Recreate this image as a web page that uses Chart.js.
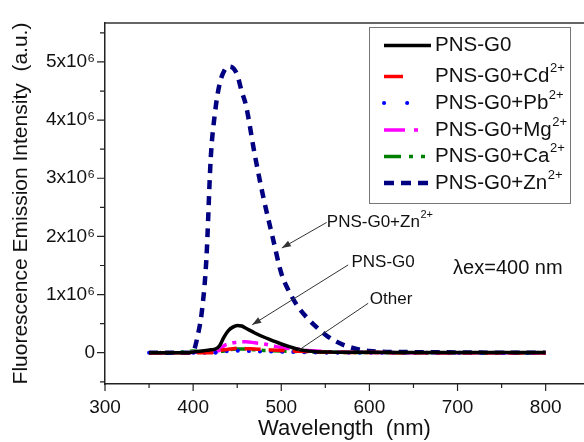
<!DOCTYPE html>
<html><head><meta charset="utf-8">
<script src="https://cdn.jsdelivr.net/npm/chart.js@4.4.1/dist/chart.umd.min.js"></script>
<style>html,body{margin:0;padding:0;background:#fff}#wrap{width:584px;height:442px;position:relative}</style>
</head><body><div id="wrap"><canvas id="c" width="584" height="442"></canvas></div>
<script>
// ---- data (intensities in units of 10^6 a.u.) ----
const wavelengths = [350, 380, 395, 400, 405, 410, 415, 420, 425, 430, 435, 440, 445, 450, 455, 460, 470, 480, 490, 500, 510, 520, 530, 540, 550, 560, 575, 600, 650, 700, 750, 800];
const pnsG0   = [0, 0, 0, 0.01, 0.02, 0.03, 0.04, 0.05, 0.06, 0.12, 0.27, 0.38, 0.44, 0.47, 0.46, 0.42, 0.34, 0.27, 0.21, 0.15, 0.10, 0.055, 0.03, 0.018, 0.012, 0.01, 0.008, 0.006, 0.005, 0.005, 0.005, 0.005];
const pnsCd   = [0, 0, 0, 0, 0, 0, 0, 0, 0.01, 0.03, 0.05, 0.06, 0.07, 0.075, 0.075, 0.07, 0.065, 0.055, 0.045, 0.04, 0.03, 0.025, 0.02, 0.015, 0.01, 0.008, 0.005, 0.003, 0, 0, 0, 0];
const pnsPb   = [0, 0, 0, 0, 0, 0, 0, 0, 0, 0.01, 0.02, 0.03, 0.035, 0.035, 0.035, 0.03, 0.025, 0.02, 0.02, 0.015, 0.012, 0.01, 0.008, 0.005, 0, 0, 0, 0, 0, 0, 0, 0];
const pnsMg   = [0, 0, 0, 0.01, 0.01, 0.01, 0.01, 0.01, 0.02, 0.04, 0.12, 0.15, 0.17, 0.18, 0.19, 0.19, 0.17, 0.15, 0.12, 0.09, 0.07, 0.06, 0.04, 0.03, 0.02, 0.015, 0.01, 0.005, 0, 0, 0, 0];
const pnsCa   = [0, 0, 0.02, 0.03, 0.02, 0.01, 0.01, 0.01, 0.01, 0.02, 0.03, 0.05, 0.06, 0.065, 0.065, 0.06, 0.05, 0.04, 0.035, 0.03, 0.025, 0.02, 0.015, 0.01, 0.01, 0.008, 0.005, 0.003, 0, 0, 0, 0];
const pnsZn   = [0, 0, 0, 0.02, 0.28, 0.72, 1.6, 3.35, 4.15, 4.62, 4.84, 4.92, 4.9, 4.78, 4.5, 4.25, 3.4, 2.65, 2.0, 1.37, 1.02, 0.77, 0.59, 0.44, 0.31, 0.21, 0.11, 0.03, 0.01, 0.005, 0, 0];

const seriesNames = ["PNS-G0", "PNS-G0+Cd", "PNS-G0+Pb", "PNS-G0+Mg", "PNS-G0+Ca", "PNS-G0+Zn"];
const seriesSup   = ["", "2+", "2+", "2+", "2+", "2+"];
const seriesData  = [pnsG0, pnsCd, pnsPb, pnsMg, pnsCa, pnsZn];

const xTickValues = [300, 400, 500, 600, 700, 800];
const xMinorTicks = [350, 450, 550, 650, 750];
const yTickValues = [0, 1, 2, 3, 4, 5];
const yTickLabels = ["0", "1x10\u2076", "2x10\u2076", "3x10\u2076", "4x10\u2076", "5x10\u2076"];
const yMinorTicks = [-0.5, 0.5, 1.5, 2.5, 3.5, 4.5, 5.5];
const xTitle = "Wavelength  (nm)";
const yTitle = "Fluorescence Emission Intensity  (a.u.)";
const excitationText = "\u03BBex=400 nm";
const excitationAt = [695, 1.455];

// annotations: text, text anchor [nm, 10^6], line start, line end, arrowhead
const annotations = [
  {name: "PNS-G0+Zn", sup: "2+", text: [551.7, 2.25], from: [551.5, 2.24], to: [500.6, 1.8], arrow: true},
  {name: "PNS-G0", sup: "", text: [579.7, 1.56], from: [575.9, 1.51], to: [467.0, 0.48], arrow: true},
  {name: "Other", sup: "", text: [600.5, 0.92], from: [598.6, 0.85], to: [518.5, 0.03], arrow: false}
];

// ---- styles ----
const FONT = "'Liberation Sans', Arial, sans-serif";
const styles = [
  {color: "#000000", width: 3.5, dash: [], cap: "butt", legendDash: [], legendEnd: 431},
  {color: "#ff0000", width: 3.5, dash: [16, 8], cap: "butt", legendDash: [19, 40], legendEnd: 431},
  {color: "#0000ff", width: 4, dash: [0.1, 11], cap: "round", legendDash: [0.1, 23], legendEnd: 420},
  {color: "#ff00ff", width: 3.5, dash: [16, 6, 4, 6], cap: "butt", legendDash: [21, 9, 4, 20], legendEnd: 431},
  {color: "#008000", width: 3.5, dash: [15, 6, 4, 6, 4, 6], cap: "butt", legendDash: [17, 8, 4, 8, 4, 20], legendEnd: 431},
  {color: "#000080", width: 4.5, dash: [9, 7], cap: "butt", legendDash: [10, 7], legendEnd: 431}
];

const datasets = seriesData.map((arr, i) => ({
  label: seriesNames[i] + (seriesSup[i] ? "^" + seriesSup[i] : ""),
  data: arr.map((v, j) => ({x: wavelengths[j], y: v * 1e6})),
  borderColor: styles[i].color,
  borderWidth: styles[i].width,
  borderDash: styles[i].dash,
  borderCapStyle: styles[i].cap,
  pointRadius: 0,
  fill: false,
  cubicInterpolationMode: "monotone"
}));

function drawSupText(ctx, x, y, main, sup, size, supSize, rise) {
  ctx.font = size + "px " + FONT;
  ctx.textBaseline = "middle";
  ctx.textAlign = "left";
  ctx.fillText(main, x, y);
  if (sup) {
    const w = ctx.measureText(main).width;
    ctx.font = supSize + "px " + FONT;
    ctx.fillText(sup, x + w + 0.5, y - rise);
  }
}

const decor = {
  id: "decor",
  afterDraw(chart) {
    const ctx = chart.ctx, a = chart.chartArea, xs = chart.scales.x, ys = chart.scales.y;
    ctx.save();
    // top frame line
    ctx.strokeStyle = "#333"; ctx.lineWidth = 1.5;
    ctx.beginPath(); ctx.moveTo(a.left, a.top); ctx.lineTo(chart.width, a.top); ctx.stroke();
    // tick marks
    ctx.strokeStyle = "#222"; ctx.lineWidth = 1.2;
    ctx.beginPath();
    xTickValues.forEach(v => { const p = xs.getPixelForValue(v); ctx.moveTo(p, a.bottom); ctx.lineTo(p, a.bottom + 7); });
    xMinorTicks.forEach(v => { const p = xs.getPixelForValue(v); ctx.moveTo(p, a.bottom); ctx.lineTo(p, a.bottom + 4); });
    yTickValues.forEach(v => { const p = ys.getPixelForValue(v * 1e6); ctx.moveTo(a.left - 8, p); ctx.lineTo(a.left, p); });
    yMinorTicks.forEach(v => { const p = ys.getPixelForValue(v * 1e6); ctx.moveTo(a.left - 5, p); ctx.lineTo(a.left, p); });
    ctx.stroke();

    // legend box
    ctx.fillStyle = "#fff"; ctx.strokeStyle = "#777"; ctx.lineWidth = 1;
    ctx.fillRect(369, 27, 201, 176);
    ctx.strokeRect(369.5, 27.5, 201, 176);
    const rows = [45.5, 76.5, 103, 130, 156.5, 183];
    seriesNames.forEach((n, i) => {
      const y = rows[i], st = styles[i];
      ctx.save();
      ctx.strokeStyle = st.color; ctx.lineWidth = st.width; ctx.setLineDash(st.legendDash); ctx.lineCap = st.cap;
      ctx.beginPath(); ctx.moveTo(384, y); ctx.lineTo(st.legendEnd, y); ctx.stroke();
      ctx.restore();
      ctx.fillStyle = "#111";
      drawSupText(ctx, 435, y, n, seriesSup[i], 20.5, 13, 8);
    });

    // annotations
    ctx.strokeStyle = "#333"; ctx.fillStyle = "#333"; ctx.lineWidth = 1;
    annotations.forEach(an => {
      const x1 = xs.getPixelForValue(an.from[0]), y1 = ys.getPixelForValue(an.from[1] * 1e6);
      const x2 = xs.getPixelForValue(an.to[0]), y2 = ys.getPixelForValue(an.to[1] * 1e6);
      ctx.beginPath(); ctx.moveTo(x1, y1); ctx.lineTo(x2, y2); ctx.stroke();
      if (an.arrow) {
        const ang = Math.atan2(y2 - y1, x2 - x1), L = 9, W = 3.2;
        ctx.beginPath();
        ctx.moveTo(x2, y2);
        ctx.lineTo(x2 - L * Math.cos(ang) + W * Math.sin(ang), y2 - L * Math.sin(ang) - W * Math.cos(ang));
        ctx.lineTo(x2 - L * Math.cos(ang) - W * Math.sin(ang), y2 - L * Math.sin(ang) + W * Math.cos(ang));
        ctx.closePath(); ctx.fill();
      }
      ctx.fillStyle = "#111";
      drawSupText(ctx, xs.getPixelForValue(an.text[0]), ys.getPixelForValue(an.text[1] * 1e6), an.name, an.sup, 17, 11, 7);
      ctx.fillStyle = "#333";
    });

    // excitation label
    ctx.fillStyle = "#111";
    ctx.font = "20px " + FONT; ctx.textBaseline = "middle"; ctx.textAlign = "left";
    ctx.fillText(excitationText, xs.getPixelForValue(excitationAt[0]), ys.getPixelForValue(excitationAt[1] * 1e6));
    ctx.restore();
  }
};

new Chart(document.getElementById("c"), {
  type: "line",
  data: {datasets},
  plugins: [decor],
  options: {
    responsive: false,
    animation: false,
    devicePixelRatio: 1,
    layout: {padding: {top: 23, right: 0, left: 0, bottom: 0}},
    plugins: {legend: {display: false}, tooltip: {enabled: false}},
    scales: {
      x: {
        type: "linear", min: 300, max: 843.5,
        afterBuildTicks: s => { s.ticks = xTickValues.map(v => ({value: v})); },
        afterFit: s => { s.height = 58; },
        grid: {display: false, drawTicks: false},
        border: {display: true, color: "#222", width: 1.5},
        ticks: {color: "#111", font: {family: FONT, size: 19}, padding: 12, maxRotation: 0, callback: v => String(v)},
        title: {display: true, text: xTitle, color: "#111", font: {family: FONT, size: 22}, padding: {top: 0, bottom: 0}}
      },
      y: {
        type: "linear", min: -0.538e6, max: 5.67e6,
        afterBuildTicks: s => { s.ticks = yTickValues.map(v => ({value: v * 1e6})); },
        afterFit: s => { s.width = 105; },
        grid: {display: false, drawTicks: false},
        border: {display: true, color: "#222", width: 1.5},
        ticks: {color: "#111", font: {family: FONT, size: 19}, padding: 10,
          callback: v => { const i = yTickValues.indexOf(Math.round(v / 1e6)); return i >= 0 ? yTickLabels[i] : ""; }},
        title: {display: true, text: yTitle, color: "#111", font: {family: FONT, size: 21}, padding: {top: 9, bottom: 0}}
      }
    }
  }
});
</script></body></html>
